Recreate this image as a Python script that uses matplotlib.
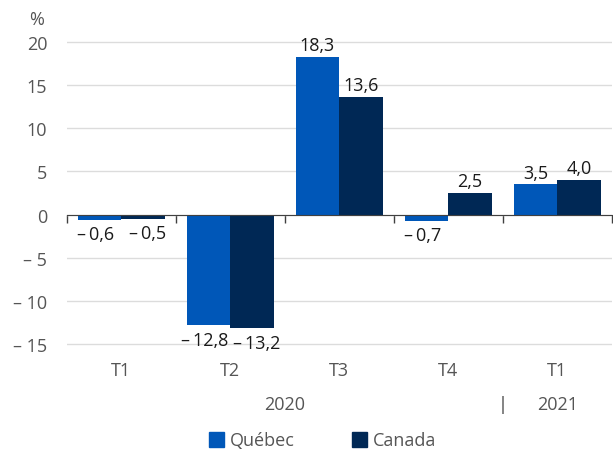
import matplotlib.pyplot as plt
import numpy as np
from matplotlib.transforms import blended_transform_factory
from matplotlib.patches import Rectangle

plt.rcParams['font.family'] = ['Open Sans', 'DejaVu Sans']

# data
quarters = ['T1', 'T2', 'T3', 'T4', 'T1']
quebec = [-0.6, -12.8, 18.3, -0.7, 3.5]
canada = [-0.5, -13.2, 13.6, 2.5, 4.0]
yticks = [-15, -10, -5, 0, 5, 10, 15, 20]

blue = '#0057b8'
navy = '#002855'
gray = '#555555'
fs = 13


def fmt(v):
    s = f"{abs(v):.1f}".replace('.', ',')
    return ('\u2013\u2009' + s) if v < 0 else s


def fmt_tick(v):
    return ('\u2013 ' + str(abs(v))) if v < 0 else str(v)


fig = plt.figure(figsize=(6.13, 4.52), dpi=100)
ax = fig.add_axes([0.109, 0.2272, 0.889, 0.6872])

x = np.arange(len(quarters))
w = 0.4
b1 = ax.bar(x - w / 2, quebec, w, color=blue, zorder=3)
b2 = ax.bar(x + w / 2, canada, w, color=navy, zorder=3)

for bars, vals, dx in ((b1, quebec, -3), (b2, canada, 3)):
    for rect, v in zip(bars, vals):
        cx = rect.get_x() + rect.get_width() / 2
        if v >= 0:
            ax.annotate(fmt(v), (cx, v), xytext=(0, 2), textcoords='offset points',
                        ha='center', va='bottom', fontsize=fs, color='#1a1a1a')
        else:
            ax.annotate(fmt(v), (cx, v), xytext=(dx, -4), textcoords='offset points',
                        ha='center', va='top', fontsize=fs, color='#1a1a1a')

ax.set_xlim(-0.5, len(quarters) - 0.5)
ax.set_ylim(-15.5, 20.5)
ax.set_yticks(yticks)
ax.set_yticklabels([fmt_tick(t) for t in yticks], fontsize=fs, color=gray)
ax.tick_params(axis='y', length=0, pad=14)
ax.grid(axis='y', color='#dcdcdc', linewidth=1, zorder=0)
for s in ['top', 'right', 'left']:
    ax.spines[s].set_visible(False)

# zero axis with category boundary ticks
ax.spines['bottom'].set_position(('data', 0))
ax.spines['bottom'].set_color('#404040')
ax.spines['bottom'].set_zorder(4)
ax.set_xticks(np.arange(-0.5, len(quarters)))
ax.set_xticklabels([])
ax.tick_params(axis='x', direction='out', length=6, color='#404040', width=1)

trans = blended_transform_factory(ax.transData, ax.transAxes)
for i, q in enumerate(quarters):
    ax.text(i, -0.07, q, transform=trans, ha='center', va='center', fontsize=fs, color=gray)
ax.text(1.5, -0.18, '2020', transform=trans, ha='center', va='center', fontsize=fs, color=gray)
ax.text(4, -0.18, '2021', transform=trans, ha='center', va='center', fontsize=fs, color=gray)
ax.text(3.5, -0.18, '|', transform=trans, ha='center', va='center', fontsize=fs, color='#404040')

fig.text(37 / 613, 1 - 20 / 452, '%', ha='center', va='center', fontsize=fs, color=gray)

# legend
fig.patches.append(Rectangle((209 / 613, 1 - 448 / 452), 15 / 613, 15 / 452,
                             transform=fig.transFigure, color=blue))
fig.text(230 / 613, 1 - 441 / 452, 'Québec', ha='left', va='center', fontsize=fs, color=gray)
fig.patches.append(Rectangle((352 / 613, 1 - 448 / 452), 15 / 613, 15 / 452,
                             transform=fig.transFigure, color=navy))
fig.text(373 / 613, 1 - 441 / 452, 'Canada', ha='left', va='center', fontsize=fs, color=gray)

fig.savefig('out.png', dpi=100)
